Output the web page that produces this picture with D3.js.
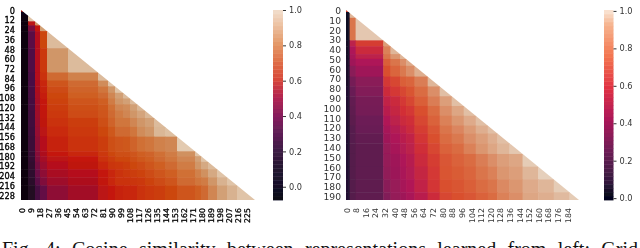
<!DOCTYPE html>
<html>
<head>
<meta charset="utf-8">
<script src="https://cdn.jsdelivr.net/npm/d3@7"></script>
<style>
  html, body { margin: 0; padding: 0; background: #fff; overflow: hidden; }
  svg { display: block; }
</style>
</head>
<body>
<svg id="canvas"></svg>
<script>
width = 640
height = 248

// block edges, in layer index
let leftEdges = [0,2,7,14,19,26,47,77,87,94,102,109,116,124,133,144,156,174,180,187,196,206,216,234]
let rightEdges = [0,2,3,8,31,37,45,50,57,68,78,88,98,108,118,126,136,147,160,173,186,194]

// similarity per block (lower triangle, row by row)
let leftValues = [
  [.55],
  [.03,.03],
  [.02,.02,.9],
  [.02,.02,.52,.8],
  [.02,.02,.35,.55,.82],
  [.02,.02,.25,.5,.65,.88],
  [.02,.02,.22,.5,.62,.8,.88],
  [.02,.02,.2,.5,.6,.72,.76,.88],
  [.02,.02,.2,.49,.58,.68,.72,.78,.9],
  [.02,.02,.19,.48,.57,.66,.71,.74,.8,.9],
  [.02,.02,.19,.47,.56,.65,.7,.72,.77,.82,.88],
  [.02,.02,.18,.46,.55,.64,.68,.7,.75,.8,.82,.88],
  [.02,.02,.18,.45,.55,.63,.67,.69,.73,.77,.78,.82,.87],
  [.02,.02,.17,.44,.54,.62,.66,.68,.72,.75,.77,.8,.83,.87],
  [.02,.02,.17,.43,.53,.6,.63,.67,.71,.74,.74,.77,.8,.82,.88],
  [.02,.02,.16,.42,.52,.59,.62,.65,.69,.72,.72,.74,.78,.8,.87,.89],
  [.02,.02,.15,.4,.5,.57,.6,.63,.67,.68,.69,.71,.73,.74,.76,.77,.92],
  [.02,.02,.14,.38,.48,.55,.58,.62,.65,.67,.67,.68,.7,.71,.73,.75,.79,.9],
  [.02,.02,.13,.36,.46,.52,.55,.6,.63,.65,.65,.67,.69,.7,.72,.74,.77,.82,.9],
  [.02,.02,.12,.33,.43,.5,.53,.58,.61,.62,.63,.65,.66,.68,.7,.72,.75,.8,.84,.88],
  [.02,.02,.11,.3,.4,.47,.5,.55,.58,.6,.62,.63,.64,.66,.68,.7,.73,.76,.79,.84,.9],
  [.02,.02,.1,.25,.36,.44,.48,.54,.58,.6,.6,.61,.62,.64,.66,.68,.72,.74,.75,.8,.86,.9],
  [.02,.02,.08,.18,.28,.4,.45,.52,.55,.57,.58,.58,.6,.62,.63,.65,.68,.7,.72,.77,.82,.86,.9]
]
let rightValues = [
  [.6],
  [.02,.02],
  [.02,.02,.88],
  [.02,.02,.72,.92],
  [.03,.03,.47,.58,.82],
  [.03,.03,.42,.52,.75,.88],
  [.03,.03,.4,.47,.72,.8,.88],
  [.04,.04,.38,.42,.66,.72,.78,.85],
  [.04,.04,.32,.38,.62,.68,.73,.78,.86],
  [.04,.04,.26,.32,.57,.6,.66,.68,.74,.88],
  [.05,.05,.23,.3,.53,.57,.6,.63,.7,.78,.9],
  [.05,.05,.21,.27,.49,.52,.57,.6,.66,.74,.82,.9],
  [.05,.05,.2,.26,.46,.5,.55,.57,.62,.7,.78,.84,.9],
  [.05,.05,.19,.24,.43,.47,.52,.54,.6,.67,.75,.8,.85,.9],
  [.05,.05,.18,.23,.4,.44,.49,.52,.58,.64,.72,.76,.81,.86,.9],
  [.05,.05,.18,.21,.38,.42,.46,.49,.56,.62,.7,.73,.78,.82,.86,.9],
  [.05,.05,.17,.2,.36,.4,.44,.47,.54,.6,.67,.7,.75,.8,.84,.88,.92],
  [.05,.05,.17,.2,.35,.38,.42,.45,.52,.58,.64,.67,.7,.74,.78,.82,.84,.93],
  [.05,.05,.17,.2,.34,.37,.41,.44,.5,.57,.63,.65,.68,.72,.75,.8,.82,.88,.94],
  [.05,.05,.17,.2,.32,.36,.4,.43,.49,.56,.62,.63,.66,.7,.72,.77,.8,.85,.88,.93],
  [.05,.05,.17,.2,.3,.35,.38,.41,.46,.53,.6,.62,.64,.67,.7,.75,.78,.84,.86,.89,.93]
]

// tick labels
let leftXTicks = [0,9,18,27,36,45,54,63,72,81,90,99,108,117,126,135,144,153,162,171,180,189,198,207,216,225]
let leftYTicks = [0,12,24,36,48,60,72,84,96,108,120,132,144,156,168,180,192,204,216,228]
let rightXTicks = [0,8,16,24,32,40,48,56,64,72,80,88,96,104,112,120,128,136,144,152,160,168,176,184]
let rightYTicks = [0,10,20,30,40,50,60,70,80,90,100,110,120,130,140,150,160,170,180,190]
let barTicks = [0,0.2,0.4,0.6,0.8,1]

// colour ramps
let rocketStops = [0,.083,.25,.417,.583,.75,.917,1]
let rocketColors = ['#03051a','#35193e','#701f57','#ad1759','#e13342','#f37651','#f6b48f','#faebdd']
let rightStops = [0,.083,.25,.417,.55,.62,.7,.8,.88,.94,1]
let rightColors = ['#03051a','#35193e','#701f57','#ad1759','#d22f36','#d9502f','#da6c42','#db9670','#dfb699','#e6d0bc','#f3e6da']
let leftStops = [0,.1,.2,.3,.4,.5,.55,.6,.65,.7,.75,.8,.85,.9,1]
let leftColors = ['#050308','#2a0a2a','#4a0f45','#6a1045','#8e1035','#b50f1a','#c4190a','#ca300a','#cc4610','#cf5e22','#d07c44','#d09668','#d6ae8a','#e0c4a8','#efe0d0']
let leftBarStops = [-.07,0,.1,.2,.3,.4,.5,.6,.7,.8,.9,1]
let leftBarColors = ['#0a0718','#14102a','#241530','#3f1c45','#622058','#8a1f5c','#b32450','#d84a3a','#df7048','#e49a6a','#ecc0a0','#f3e3d3']

let svg = d3.select('#canvas').attr('width', width).attr('height', height)

let defs = svg.append('defs')
defs.append('filter').attr('id', 'soft').append('feGaussianBlur').attr('stdDeviation', 0.6)
defs.append('filter').attr('id', 'softText').append('feGaussianBlur').attr('stdDeviation', 0.3)

let drawPanel = (p) => {
  let n = p.edges[p.edges.length - 1]
  let x = d3.scaleLinear().domain([0, n]).range([p.x0, p.x1])
  let y = d3.scaleLinear().domain([0, n]).range([p.y0, p.y1])
  let color = d3.scaleLinear().domain(p.stops).range(p.colors).clamp(true)

  let cells = []
  p.values.forEach((row, r) => {
    row.forEach((v, c) => {
      cells.push({ r: r, c: c, v: v })
    })
  })

  defs.append('clipPath').attr('id', p.id + '-clip')
    .append('polygon')
    .attr('points', [[0, 0], [n, n], [0, n]].map((d) => x(d[0]) + ',' + y(d[1])).join(' '))

  svg.append('g')
    .attr('filter', 'url(#soft)')
    .append('g')
    .attr('clip-path', 'url(#' + p.id + '-clip)')
    .selectAll('rect')
    .data(cells)
    .enter()
    .append('rect')
    .attr('x', (d) => x(p.edges[d.c]))
    .attr('y', (d) => y(p.edges[d.r]))
    .attr('width', (d) => x(p.edges[d.c + 1]) - x(p.edges[d.c]) + 0.5)
    .attr('height', (d) => y(p.edges[d.r + 1]) - y(p.edges[d.r]) + 0.5)
    .attr('fill', (d) => color(d.v))

  let xAxis = d3.axisBottom(d3.scaleLinear().domain([-0.5, n - 0.5]).range([p.x0, p.x1]))
    .tickValues(p.xTicks).tickFormat(d3.format('d')).tickSize(0)
  let yAxis = d3.axisLeft(d3.scaleLinear().domain([-0.5, n - 0.5]).range([p.y0, p.y1]))
    .tickValues(p.yTicks).tickFormat(d3.format('d')).tickSize(0)

  let gx = svg.append('g')
    .attr('transform', 'translate(0,' + p.y1 + ')')
    .attr('filter', 'url(#softText)')
    .call(xAxis)
  gx.select('.domain').remove()
  gx.selectAll('text')
    .attr('font-family', 'DejaVu Sans')
    .attr('font-size', p.xFont)
    .attr('fill', p.textFill)
    .attr('stroke', p.textFill)
    .attr('stroke-width', p.thick)
    .attr('text-anchor', 'end')
    .attr('transform', 'rotate(-90)')
    .attr('x', -8)
    .attr('y', 0)
    .attr('dy', '0.32em')

  let gy = svg.append('g')
    .attr('transform', 'translate(' + p.x0 + ',0)')
    .attr('filter', 'url(#softText)')
    .call(yAxis)
  gy.select('.domain').remove()
  gy.selectAll('text')
    .attr('font-family', 'DejaVu Sans')
    .attr('font-size', p.yFont)
    .attr('fill', p.textFill)
    .attr('stroke', p.textFill)
    .attr('stroke-width', p.thick)
    .attr('x', -p.yPad)

  // colour bar
  let bar = d3.scaleLinear().domain(p.barDomain).range([p.y1, p.y0])
  let barColor = d3.scaleLinear().domain(p.barStops).range(p.barColors).clamp(true)
  let segments = d3.range(48).map((i) => p.barDomain[0] + (p.barDomain[1] - p.barDomain[0]) * i / 48)
  let segH = (p.y1 - p.y0) / 48
  svg.append('g')
    .attr('filter', 'url(#softText)')
    .selectAll('rect')
    .data(segments)
    .enter()
    .append('rect')
    .attr('x', p.barX)
    .attr('y', (d) => bar(d) - segH)
    .attr('width', p.barW)
    .attr('height', segH + 0.4)
    .attr('fill', (d) => barColor(d))

  let gb = svg.append('g')
    .attr('transform', 'translate(' + (p.barX + p.barW) + ',0)')
    .attr('filter', 'url(#softText)')
    .call(d3.axisRight(bar).tickValues(barTicks).tickFormat(d3.format('.1f')).tickSize(3).tickPadding(3))
  gb.select('.domain').remove()
  gb.selectAll('line').attr('stroke', '#333')
  gb.selectAll('text')
    .attr('font-family', 'DejaVu Sans')
    .attr('font-size', 8.2)
    .attr('fill', '#333')
}

drawPanel({
  id: 'left', edges: leftEdges, values: leftValues,
  x0: 21, x1: 255, y0: 10, y1: 200,
  stops: leftStops, colors: leftColors,
  xTicks: leftXTicks, yTicks: leftYTicks,
  xFont: 7.8, yFont: 8.2, yPad: 6, textFill: '#000', thick: 0.3,
  barX: 273, barW: 10, barDomain: [-0.075, 1],
  barStops: leftBarStops, barColors: leftBarColors
})

drawPanel({
  id: 'right', edges: rightEdges, values: rightValues,
  x0: 346, x1: 579, y0: 10, y1: 200,
  stops: rightStops, colors: rightColors,
  xTicks: rightXTicks, yTicks: rightYTicks,
  xFont: 7.8, yFont: 9.2, yPad: 5, textFill: '#333', thick: 0,
  barX: 604, barW: 9.5, barDomain: [-0.01, 1.005],
  barStops: rocketStops, barColors: rocketColors
})

// caption, cut off by the bottom of the image, words spread to the full line
let caption = svg.append('text')
  .attr('x', 2)
  .attr('y', 256)
  .attr('font-family', 'Liberation Serif')
  .attr('font-size', 20)
  .attr('fill', '#111')
  .text('Fig. 4: Cosine similarity between representations learned from left: Grid')

let captionGaps = caption.text().split(' ').length - 1
caption.attr('word-spacing', (636 - caption.node().getComputedTextLength()) / captionGaps)
</script>
</body>
</html>
